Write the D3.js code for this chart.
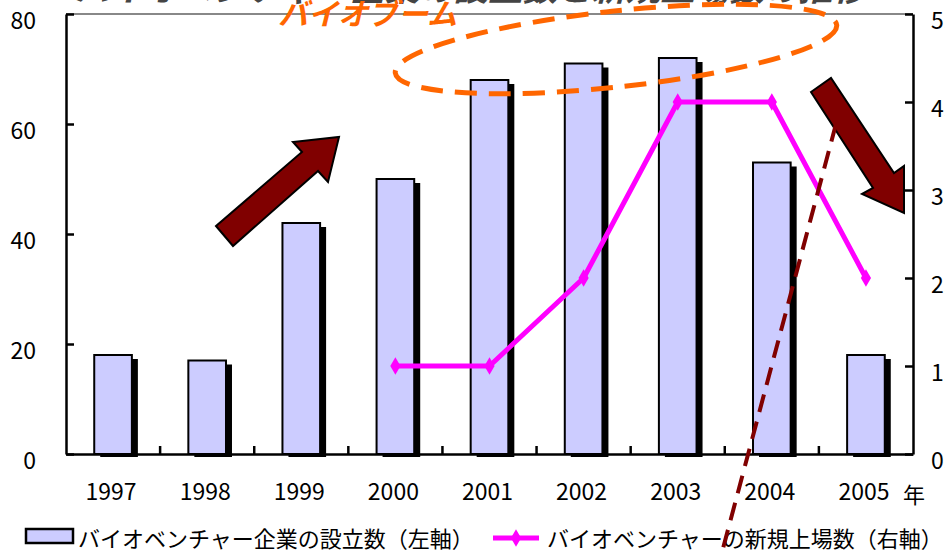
<!DOCTYPE html>
<html>
<head>
<meta charset="utf-8">
<script src="https://cdn.jsdelivr.net/npm/d3@7/dist/d3.min.js"></script>
<style>
  html, body { margin: 0; padding: 0; background: #fff; }
  svg { display: block; }
  text { font-family: "Noto Sans CJK JP", "Noto Sans", sans-serif; }
</style>
</head>
<body>
<svg id="chart" width="945" height="550"></svg>
<script>
// Years on the category axis
const years = ["1997", "1998", "1999", "2000", "2001", "2002", "2003", "2004", "2005"];
// Number of bio-venture companies founded per year (left axis)
const founded = [18, 17, 42, 50, 68, 71, 72, 53, 18];
// Number of new listings per year (right axis), from 2000 on
const listingYears = ["2000", "2001", "2002", "2003", "2004", "2005"];
const listings = [1, 1, 2, 4, 4, 2];
// Axis ticks
const leftTicks = [0, 20, 40, 60, 80];
const rightTicks = [0, 1, 2, 3, 4, 5];
// Text
const titleText = "バイオベンチャー企業の設立数と新規上場数の推移";
const boomText = "バイオブーム";
const yearUnit = "年";
const legendBars = "バイオベンチャー企業の設立数（左軸）";
const legendLine = "バイオベンチャーの新規上場数（右軸）";

const svg = d3.select("#chart");
const plot = { left: 66, right: 913, top: 14, bottom: 454 };

const x = d3.scaleBand().domain(years).range([plot.left, plot.right]).padding(0);
const yL = d3.scaleLinear().domain([0, 80]).range([plot.bottom, plot.top]);
const yR = d3.scaleLinear().domain([0, 5]).range([plot.bottom, plot.top]);
const barW = x.bandwidth() * 0.4;

// Title (runs off the top edge)
svg.append("text")
  .attr("x", 75).attr("y", 1)
  .attr("textLength", 792).attr("lengthAdjust", "spacingAndGlyphs")
  .attr("font-size", 32).attr("font-weight", "bold").attr("font-style", "italic")
  .attr("fill", "#444").text(titleText);

// Top border of the plot area
svg.append("line")
  .attr("x1", plot.left).attr("x2", plot.right)
  .attr("y1", plot.top).attr("y2", plot.top)
  .attr("stroke", "#888").attr("stroke-width", 2);

// Bar shadows then bars
const bars = svg.append("g");
bars.selectAll("rect.shadow").data(founded).join("rect")
  .attr("class", "shadow")
  .attr("x", (d, i) => x(years[i]) + (x.bandwidth() - barW) / 2 + 6)
  .attr("y", d => yL(d) + 4)
  .attr("width", barW)
  .attr("height", d => plot.bottom + 3 - (yL(d) + 4))
  .attr("fill", "#000");
bars.selectAll("rect.bar").data(founded).join("rect")
  .attr("class", "bar")
  .attr("x", (d, i) => x(years[i]) + (x.bandwidth() - barW) / 2)
  .attr("y", d => yL(d))
  .attr("width", barW)
  .attr("height", d => plot.bottom - yL(d))
  .attr("fill", "#CCCCFF").attr("stroke", "#000").attr("stroke-width", 2);

// Left axis
const axL = svg.append("g").attr("transform", `translate(${plot.left},0)`)
  .call(d3.axisLeft(yL).tickValues(leftTicks).tickSizeInner(-8).tickSizeOuter(0).tickPadding(30));
axL.select(".domain").attr("stroke", "#000").attr("stroke-width", 2.5);
axL.selectAll(".tick line").attr("stroke", "#000").attr("stroke-width", 2.5);
axL.selectAll(".tick text").attr("font-size", 23).attr("fill", "#000")
  .attr("font-family", "'Noto Sans CJK JP', sans-serif").attr("dy", "0.65em");

// Right axis
const axR = svg.append("g").attr("transform", `translate(${plot.right},0)`)
  .call(d3.axisRight(yR).tickValues(rightTicks).tickSizeInner(-8).tickSizeOuter(0).tickPadding(18));
axR.select(".domain").attr("stroke", "#000").attr("stroke-width", 2.5);
axR.selectAll(".tick line").attr("stroke", "#000").attr("stroke-width", 2.5);
axR.selectAll(".tick text").attr("font-size", 23).attr("fill", "#000")
  .attr("font-family", "'Noto Sans CJK JP', sans-serif").attr("dy", "0.65em");

// Bottom axis: year labels
const axB = svg.append("g").attr("transform", `translate(0,${plot.bottom})`)
  .call(d3.axisBottom(x).tickSize(0).tickPadding(30));
axB.select(".domain").attr("stroke", "#000").attr("stroke-width", 2.5);
axB.selectAll(".tick text").attr("font-size", 23).attr("fill", "#000")
  .attr("font-family", "'Noto Sans CJK JP', sans-serif").attr("dx", "-2");
// Category boundary ticks pointing up
svg.append("g").selectAll("line").data(years.slice(1)).join("line")
  .attr("x1", d => x(d)).attr("x2", d => x(d))
  .attr("y1", plot.bottom).attr("y2", plot.bottom - 8)
  .attr("stroke", "#000").attr("stroke-width", 2.5);
svg.append("text")
  .attr("x", 903).attr("y", 503)
  .attr("font-size", 22).attr("fill", "#000").text(yearUnit);

// Listings line
const lineData = listingYears.map((yr, i) => ({ yr, v: listings[i] }));
const line = d3.line().x(d => x(d.yr) + x.bandwidth() / 2).y(d => yR(d.v));
svg.append("path").datum(lineData)
  .attr("d", line).attr("fill", "none")
  .attr("stroke", "#FF00FF").attr("stroke-width", 5).attr("stroke-linejoin", "round");
const diamond = d3.symbol().type(d3.symbolDiamond).size(90);
svg.append("g").selectAll("path").data(lineData).join("path")
  .attr("transform", d => `translate(${x(d.yr) + x.bandwidth() / 2},${yR(d.v)})`)
  .attr("d", diamond).attr("fill", "#FF00FF");

// Legend
svg.append("rect").attr("x", 26).attr("y", 529).attr("width", 47).attr("height", 14)
  .attr("fill", "#CCCCFF").attr("stroke", "#000").attr("stroke-width", 2.5);
svg.append("text").attr("x", 78).attr("y", 547)
  .attr("font-size", 22).attr("fill", "#000").text(legendBars);
svg.append("line").attr("x1", 493).attr("x2", 539).attr("y1", 538).attr("y2", 538)
  .attr("stroke", "#FF00FF").attr("stroke-width", 5);
svg.append("path").attr("transform", "translate(516,538)").attr("d", diamond).attr("fill", "#FF00FF");
svg.append("text").attr("x", 547).attr("y", 547)
  .attr("font-size", 22).attr("fill", "#000").text(legendLine);

// Annotations: boom ellipse and label
svg.append("ellipse")
  .attr("cx", 616).attr("cy", 49).attr("rx", 222).attr("ry", 38)
  .attr("transform", "rotate(-6.2,616,49)")
  .attr("fill", "none").attr("stroke", "#FF6600").attr("stroke-width", 5)
  .attr("stroke-dasharray", "22 12");
svg.append("text")
  .attr("x", 278).attr("y", 25)
  .attr("font-size", 30).attr("font-weight", "bold").attr("font-style", "italic")
  .attr("fill", "#FF6600").text(boomText);

// Trend arrows
const arrowUp = [[216, 226], [302, 152], [293, 142], [339, 137], [328, 182], [318, 171], [233, 246]];
const arrowDown = [[811, 92], [831, 78], [894, 173], [904, 166], [904, 213], [862, 194], [873, 188]];
svg.append("g").selectAll("polygon").data([arrowUp, arrowDown]).join("polygon")
  .attr("points", d => d.map(p => p.join(",")).join(" "))
  .attr("fill", "#800000").attr("stroke", "#000").attr("stroke-width", 2)
  .attr("stroke-linejoin", "miter");

// Dashed divider line
svg.append("line")
  .attr("x1", 836).attr("y1", 124).attr("x2", 721).attr("y2", 556)
  .attr("stroke", "#800000").attr("stroke-width", 4).attr("stroke-dasharray", "18 10");
</script>
</body>
</html>
